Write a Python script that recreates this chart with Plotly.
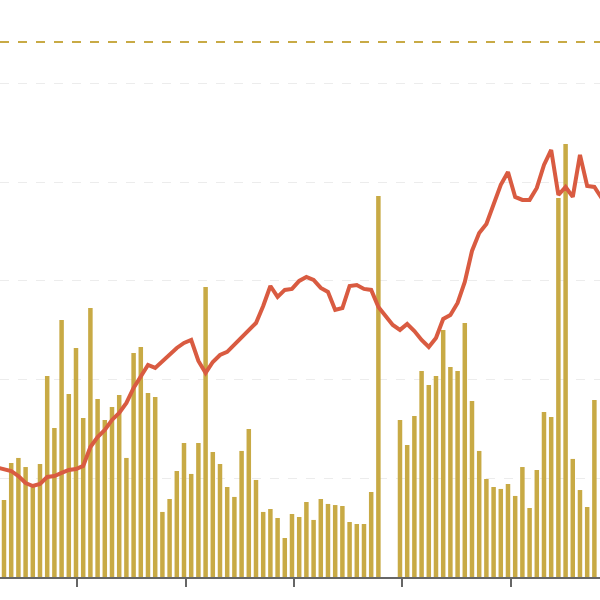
import plotly.graph_objects as go

# Bar series (one per period), None = no data
bar_values = [
    7.8, 11.55, 12.06, 11.14, 9.32, 11.45, 20.37, 15.1, 26.04, 18.54,
    23.2, 16.11, 27.25, 18.03, 15.91, 17.22, 18.44, 12.06, 22.7, 23.3,
    18.64, 18.24, 6.59, 7.9, 10.74, 13.58, 10.44, 13.58, 29.38, 12.66,
    11.45, 9.12, 8.11, 12.77, 14.99, 9.83, 6.59, 6.89, 5.98, 3.95,
    6.38, 6.08, 7.6, 5.78, 7.9, 7.4, 7.29, 7.19, 5.57, 5.37,
    5.37, 8.61, 38.6, None, None, 15.91, 13.37, 16.31, 20.87, 19.45,
    20.37, 25.03, 21.28, 20.87, 25.73, 17.83, 12.77, 9.93, 9.12, 8.92,
    9.42, 8.21, 11.14, 6.99, 10.84, 16.72, 16.21, 38.4, 43.87, 11.96,
    8.81, 7.09, 17.93,
]

# Smoothed line series (starts one period earlier, ends one later)
line_values = [
    11.1,
    10.94, 10.74, 10.23, 9.52, 9.22, 9.42, 10.13, 10.23, 10.54, 10.84,
    10.94, 11.25, 13.17, 14.18, 14.89, 15.91, 16.62, 17.63, 19.15, 20.37,
    21.48, 21.18, 21.88, 22.59, 23.2, 23.71, 24.01, 21.88, 20.67, 21.78,
    22.49, 22.8, 23.51, 24.21, 25.03, 25.73, 27.46, 29.48, 28.37, 29.08,
    29.18, 29.99, 30.4, 30.09, 29.28, 28.88, 27.05, 27.25, 29.48, 29.58,
    29.18, 29.08, 27.36, 26.44, 25.53, 25.03, 25.63, 24.92, 24.01, 23.3,
    24.21, 26.14, 26.55, 27.76, 29.89, 33.03, 34.85, 35.76, 37.89, 39.72,
    41.03, 38.5, 38.2, 38.2, 39.41, 41.74, 43.26, 38.7, 39.51, 38.5,
    42.76, 39.61, 39.51, 38.4,
]

reference_level = 54.2

bar_x = list(range(len(bar_values)))
line_x = list(range(-1, len(line_values) - 1))

BAR_COLOR = "#c8aa45"
LINE_COLOR = "#d95b41"

fig = go.Figure()
fig.add_trace(go.Bar(x=bar_x, y=bar_values, marker_color=BAR_COLOR,
                     marker_line_width=0, showlegend=False))
fig.add_trace(go.Scatter(x=line_x, y=line_values, mode="lines",
                         line=dict(color=LINE_COLOR, width=4),
                         showlegend=False))
fig.add_hline(y=reference_level, line=dict(color=BAR_COLOR, width=2, dash="dash"))

fig.update_layout(
    width=600, height=600,
    margin=dict(l=0, r=0, t=0, b=23),
    plot_bgcolor="white", paper_bgcolor="white",
    bargap=0.375,
)
fig.update_xaxes(
    range=[-0.556, 82.78],
    showgrid=False, zeroline=False,
    showline=True, linecolor="#666666", linewidth=2,
    ticks="outside", ticklen=8, tickwidth=2, tickcolor="#666666",
    tick0=10.2, dtick=15.04,
    showticklabels=False,
)
fig.update_yaxes(
    range=[0, 58.45],
    dtick=10,
    showgrid=True, gridcolor="#ececec", gridwidth=1, griddash="dash",
    zeroline=False, showticklabels=False, showline=False,
)

fig.write_html(
    "out.html",
    config={"displayModeBar": False},
    post_script="document.body.style.margin='0';document.body.style.overflow='hidden';",
)
